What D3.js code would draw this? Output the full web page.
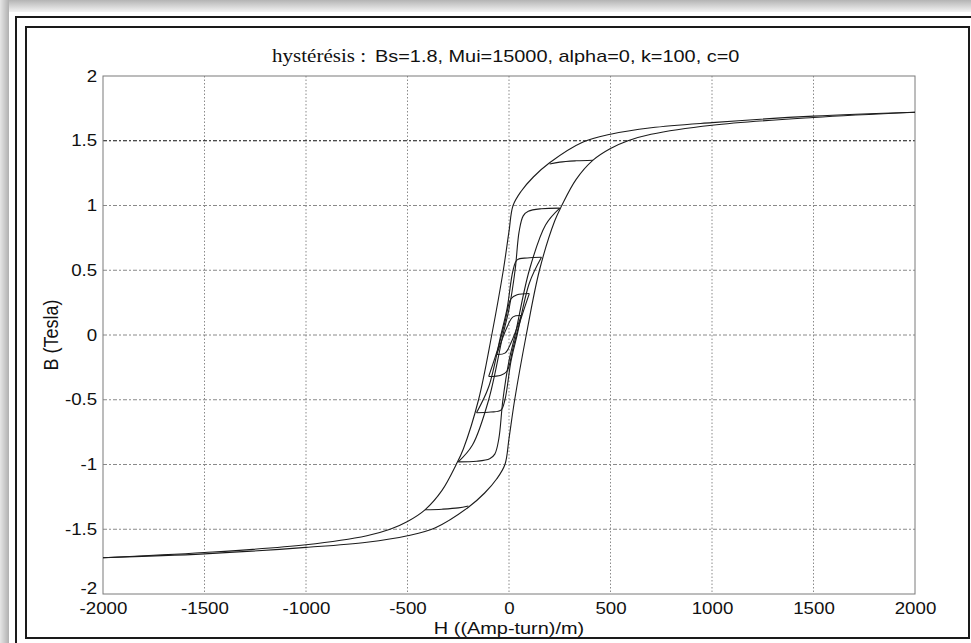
<!DOCTYPE html>
<meta charset="utf-8">
<html>
<head>
<script src="https://d3js.org/d3.v7.min.js"></script>
<style>
    body { margin: 0; background: white; }
    .tick text { font: 16px "Liberation Sans", Arial, sans-serif; fill: #111; }
</style>
</head>
<body>
<div id="chartdiv"></div>
<script>

// axis ticks
var hTicks = [-2000, -1500, -1000, -500, 0, 500, 1000, 1500, 2000];
var bTicks = [-2, -1.5, -1, -0.5, 0, 0.5, 1, 1.5, 2];

// major loop: [H, B]
var majorDown = [[2000,1.72],[1500,1.69],[1000,1.64],[700,1.60],[500,1.55],[365,1.49],[200,1.33],
    [120,1.22],[60,1.11],[20,1.00],[0,0.80],[-28,0.50],[-85,0.00],[-150,-0.50],[-225,-0.88],
    [-260,-1.00],[-330,-1.20],[-414,-1.35],[-500,-1.44],[-586,-1.50],[-700,-1.55],[-1000,-1.62],
    [-1500,-1.68],[-2000,-1.72]];
var majorUp = [[-2000,-1.72],[-1500,-1.69],[-1000,-1.64],[-700,-1.60],[-500,-1.55],[-365,-1.49],[-200,-1.33],
    [-120,-1.22],[-60,-1.11],[-20,-1.00],[0,-0.80],[28,-0.50],[85,0.00],[150,0.50],[225,0.88],
    [260,1.00],[330,1.20],[414,1.35],[500,1.44],[586,1.50],[700,1.55],[1000,1.62],
    [1500,1.68],[2000,1.72]];

// inner loops (decaying excitation)
var loop1Down = [[414,1.35],[330,1.345],[250,1.335],[200,1.32]];
var loop1Up = [[-414,-1.35],[-330,-1.345],[-250,-1.335],[-200,-1.32]];
var loop2Down = [[250,0.98],[160,0.975],[95,0.955],[70,0.92],[50,0.80],[30,0.50],[0,0.20],
    [-30,0.00],[-100,-0.50],[-180,-0.85],[-250,-0.98]];
var loop2Up = [[-250,-0.98],[-160,-0.975],[-95,-0.955],[-70,-0.92],[-50,-0.80],[-30,-0.50],[0,-0.20],
    [30,0.00],[100,0.50],[180,0.85],[250,0.98]];
var loop3Down = [[160,0.60],[90,0.595],[40,0.58],[20,0.50],[-10,0.20],[-40,0.00],[-100,-0.40],[-160,-0.60]];
var loop3Up = [[-160,-0.60],[-90,-0.595],[-40,-0.58],[-20,-0.50],[10,-0.20],[40,0.00],[100,0.40],[160,0.60]];
var loop4Down = [[100,0.32],[40,0.31],[10,0.28],[-20,0.10],[-50,-0.08],[-100,-0.32]];
var loop4Up = [[-100,-0.32],[-40,-0.31],[-10,-0.28],[20,-0.10],[50,0.08],[100,0.32]];
var loop5Down = [[60,0.15],[20,0.14],[-10,0.06],[-60,-0.15]];
var loop5Up = [[-60,-0.15],[-20,-0.14],[10,-0.06],[60,0.15]];

var curves = [majorDown, majorUp, loop1Down, loop1Up, loop2Down, loop2Up,
    loop3Down, loop3Up, loop4Down, loop4Up, loop5Down, loop5Up];

// page and plot geometry
var page = {width: 971, height: 643};
var plot = {left: 103, right: 915, top: 76, bottom: 594};
var stretch = 1.17;   // the scanned figure is a little wider than tall, text included

var svg = d3.select("#chartdiv")
    .append("svg")
        .attr("width", page.width)
        .attr("height", page.height);

// soft shadow along top and left edge of the scanned page
var defs = svg.append("defs");
var gTop = defs.append("linearGradient").attr("id", "shTop")
    .attr("x1", 0).attr("y1", 0).attr("x2", 0).attr("y2", 1);
gTop.append("stop").attr("offset", "0%").attr("stop-color", "#b4b4b4");
gTop.append("stop").attr("offset", "100%").attr("stop-color", "#f4f4f4");
var gLeft = defs.append("linearGradient").attr("id", "shLeft")
    .attr("x1", 0).attr("y1", 0).attr("x2", 1).attr("y2", 0);
gLeft.append("stop").attr("offset", "0%").attr("stop-color", "#e6e6e6");
gLeft.append("stop").attr("offset", "100%").attr("stop-color", "#b0b0b0");

svg.append("rect").attr("x", 0).attr("y", 0).attr("width", page.width).attr("height", 12)
    .attr("fill", "url(#shTop)");
svg.append("rect").attr("x", 0).attr("y", 0).attr("width", 9).attr("height", page.height)
    .attr("fill", "url(#shLeft)");

// double frame
svg.append("rect").attr("x", 16).attr("y", 17).attr("width", 1000).attr("height", 700)
    .attr("fill", "none").attr("stroke", "#1a1a1a").attr("stroke-width", 2);
svg.append("rect").attr("x", 26).attr("y", 27).attr("width", 943).attr("height", 611)
    .attr("fill", "none").attr("stroke", "#1a1a1a").attr("stroke-width", 2);

// scales
var x = d3.scaleLinear().domain([-2000, 2000]).range([plot.left, plot.right]);
var y = d3.scaleLinear().domain([-2, 2]).range([plot.bottom, plot.top]);

// grid
svg.append("g")
    .selectAll("line")
    .data(hTicks.slice(1, -1))
    .enter().append("line")
        .attr("x1", d => x(d)).attr("x2", d => x(d))
        .attr("y1", plot.top).attr("y2", plot.bottom)
        .attr("stroke", "#8a8a8a").attr("stroke-width", 1)
        .attr("stroke-dasharray", "1.5,2");

svg.append("g")
    .selectAll("line")
    .data(bTicks.slice(1, -1))
    .enter().append("line")
        .attr("x1", plot.left).attr("x2", plot.right)
        .attr("y1", d => y(d)).attr("y2", d => y(d))
        .attr("stroke", d => d == 1.5 ? "#111" : "#8a8a8a").attr("stroke-width", 1)
        .attr("stroke-dasharray", "4,2,2,2");

// plot box
svg.append("rect")
    .attr("x", plot.left).attr("y", plot.top)
    .attr("width", plot.right - plot.left).attr("height", plot.bottom - plot.top)
    .attr("fill", "none").attr("stroke", "#7a7a7a").attr("stroke-width", 1);

// axes, labels only (plain hyphen minus like matlab)
var axisX = svg.append("g")
    .attr("transform", "translate(0," + plot.bottom + ")")
    .call(d3.axisBottom(x).tickValues(hTicks).tickSize(0).tickPadding(9).tickFormat(d => String(d)));
axisX.select(".domain").remove();
axisX.selectAll("text").attr("transform", "scale(" + stretch + ",1)");

var axisY = svg.append("g")
    .attr("transform", "translate(" + plot.left + ",0)")
    .call(d3.axisLeft(y).tickValues(bTicks).tickSize(0).tickPadding(5).tickFormat(d => String(d)));
axisY.select(".domain").remove();
axisY.selectAll("text").attr("transform", "scale(" + stretch + ",1)");
// the -2 label sits a bit higher in the original so it clears -2000
axisY.selectAll(".tick").filter(d => d == -2).select("text").attr("dy", "-0.05em");

// hysteresis curves
var line = d3.line()
    .x(d => x(d[0]))
    .y(d => y(d[1]))
    .curve(d3.curveCatmullRom.alpha(0.5));

svg.append("g")
    .selectAll("path")
    .data(curves)
    .enter().append("path")
        .attr("d", line)
        .attr("fill", "none")
        .attr("stroke", "#1c1c1c")
        .attr("stroke-width", 1.1);

// title, mixed fonts as in the original
svg.append("text")
    .attr("transform", "translate(272,62) scale(" + stretch + ",1)")
    .style("font", "18px 'Liberation Serif', 'Times New Roman', serif")
    .style("fill", "#111")
    .text("hystérésis :");
svg.append("text")
    .attr("transform", "translate(375,62) scale(" + stretch + ",1)")
    .style("font", "17px 'Liberation Sans', Arial, sans-serif")
    .style("fill", "#111")
    .text("Bs=1.8, Mui=15000, alpha=0, k=100, c=0");

svg.append("text")
    .attr("transform", "translate(" + (plot.left + plot.right) / 2 + ",634) scale(" + stretch + ",1)")
    .attr("text-anchor", "middle")
    .style("font", "17px 'Liberation Sans', Arial, sans-serif")
    .style("fill", "#111")
    .text("H ((Amp-turn)/m)");

svg.append("text")
    .attr("transform", "translate(58," + y(0) + ") rotate(-90) scale(1," + stretch + ")")
    .attr("text-anchor", "middle")
    .style("font", "18px 'Liberation Sans', Arial, sans-serif")
    .style("fill", "#111")
    .text("B (Tesla)");

</script>
</body>
</html>
